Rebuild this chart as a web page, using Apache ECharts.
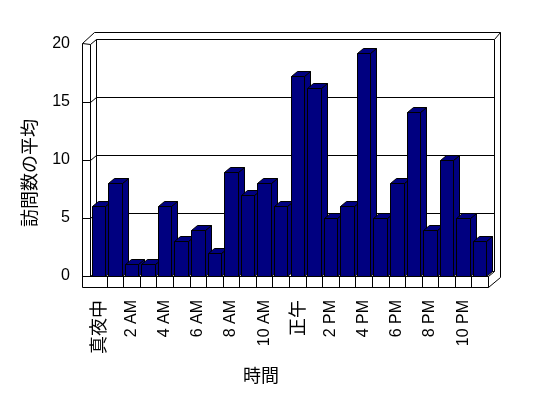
<!DOCTYPE html>
<html>
<head>
<meta charset="utf-8">
<script src="https://cdn.jsdelivr.net/npm/echarts@6/dist/echarts.min.js"></script>
<style>
  html, body { margin: 0; padding: 0; background: #fff; }
  #chart { width: 548px; height: 398px; }
</style>
</head>
<body>
<div id="chart"></div>
<script>
// 時間ごとの訪問数の平均
const hours = ['真夜中', '1 AM', '2 AM', '3 AM', '4 AM', '5 AM', '6 AM', '7 AM', '8 AM', '9 AM', '10 AM', '11 AM',
  '正午', '1 PM', '2 PM', '3 PM', '4 PM', '5 PM', '6 PM', '7 PM', '8 PM', '9 PM', '10 PM', '11 PM'];
const visits = [6, 8, 1, 1, 6, 3, 4, 2, 9, 7, 8, 6, 17.2, 16.2, 5, 6, 19.2, 5, 8, 14.1, 4, 10, 5, 3];
const gridLevels = [5, 10, 15];

const DX = 6, DY = -5;   // 奥行き
const NAVY = '#000080';
const FONT = "'Liberation Sans', 'Noto Sans CJK JP', sans-serif";
const JFONT = "'Noto Sans CJK JP', sans-serif";

const chart = echarts.init(document.getElementById('chart'));

function px(v) {
  return Math.round(v) + 0.5;
}

function seg(a, b) {
  return {
    type: 'line',
    shape: { x1: a[0], y1: a[1], x2: b[0], y2: b[1] },
    style: { stroke: '#000', lineWidth: 1 }
  };
}

// 壁と床
function renderFrame(params, api) {
  const cs = params.coordSys;
  const x0 = px(cs.x), x1 = px(cs.x + cs.width);
  const yT = px(cs.y), yB = px(cs.y + cs.height);
  const band = api.size([1, 0])[0];
  const children = [];

  children.push({
    type: 'polygon',
    shape: { points: [[x0 - 8, yT - 1], [x0 - 8, yB + 11], [x1, yB + 11], [x1 + 12, yB + 1],
      [x1 + 12, yT - 12], [x0 + 4, yT - 12]] },
    style: { fill: '#fff', stroke: '#000', lineWidth: 1 }
  });
  // back wall
  children.push({
    type: 'polygon',
    shape: { points: [[x0 + DX, yT + DY], [x1 + DX, yT + DY], [x1 + DX, yB + DY], [x0 + DX, yB + DY]] },
    style: { fill: 'none', stroke: '#000', lineWidth: 1 }
  });
  children.push(seg([x1 + DX, yT + DY], [x1 + 12, yT - 12]));
  // left wall
  children.push(seg([x0, yT], [x0, yB]));
  children.push(seg([x0 - 8, yT - 1], [x0, yT]));
  children.push(seg([x0, yT], [x0 + DX, yT + DY]));
  children.push(seg([x0, yB], [x0 + DX, yB + DY]));
  // floor
  children.push(seg([x0 - 8, yB], [x1, yB]));
  children.push(seg([x1, yB], [x1 + DX, yB + DY]));
  children.push(seg([x1, yB], [x1, yB + 11]));
  for (let k = 1; k < hours.length; k++) {
    const x = px(cs.x + k * band);
    children.push(seg([x, yB], [x, yB + 11]));
  }
  // grid lines
  gridLevels.forEach(function (v) {
    const y = px(api.coord([0, v])[1]);
    children.push(seg([x0 - 8, y], [x0, y]));
    children.push(seg([x0, y], [x0 + DX, y + DY]));
    children.push(seg([x0 + DX, y + DY], [x1 + DX, y + DY]));
  });

  return { type: 'group', children: children };
}

// 3D 棒
function renderBar(params, api) {
  const i = api.value(0), v = api.value(1);
  const top = api.coord([i, v]);
  const base = api.coord([i, 0]);
  const band = api.size([1, 0])[0];
  const w = band * 0.81;
  const xl = px(top[0] - w / 2), xr = px(top[0] + w / 2);
  const yt = px(top[1]), yb = px(base[1]);
  const style = { fill: NAVY, stroke: '#000', lineWidth: 1 };
  return {
    type: 'group',
    children: [
      { type: 'polygon', shape: { points: [[xr, yt], [xr + DX, yt + DY], [xr + DX, yb + DY], [xr, yb]] }, style: style },
      { type: 'polygon', shape: { points: [[xl, yt], [xl + DX, yt + DY], [xr + DX, yt + DY], [xr, yt]] }, style: style },
      { type: 'polygon', shape: { points: [[xl, yt], [xr, yt], [xr, yb], [xl, yb]] }, style: style }
    ]
  };
}

chart.setOption({
  animation: false,
  backgroundColor: '#fff',
  textStyle: { fontFamily: FONT, color: '#000' },
  grid: { left: 90, right: 60, top: 44, bottom: 122, containLabel: false },
  xAxis: {
    type: 'category',
    data: hours,
    axisLine: { show: false },
    axisTick: { show: false },
    axisLabel: {
      interval: 1,
      rotate: 90,
      margin: 24,
      fontSize: 16,
      color: '#000',
      fontFamily: FONT,
      formatter: function (v) {
        return /[A-Z]/.test(v) ? v : '{j|' + v + '}';
      },
      rich: { j: { fontSize: 18, fontFamily: JFONT, color: '#000' } }
    },
    name: '時間',
    nameLocation: 'middle',
    nameGap: 90,
    nameTextStyle: { fontSize: 18, fontFamily: JFONT, color: '#000', padding: [0, 56, 0, 0] }
  },
  yAxis: {
    type: 'value',
    min: 0,
    max: 20,
    interval: 5,
    axisLine: { show: false },
    axisTick: { show: false },
    splitLine: { show: false },
    axisLabel: { margin: 20, fontSize: 16, color: '#000', fontFamily: FONT },
    name: '訪問数の平均',
    nameLocation: 'middle',
    nameGap: 52,
    nameRotate: 90,
    nameTextStyle: { fontSize: 18, fontFamily: JFONT, color: '#000', padding: [0, 26, 0, 0] }
  },
  series: [
    {
      type: 'custom',
      z: 1,
      silent: true,
      renderItem: renderFrame,
      data: [[0, 0]]
    },
    {
      type: 'custom',
      z: 2,
      renderItem: renderBar,
      encode: { x: 0, y: 1 },
      data: visits.map(function (v, i) { return [i, v]; })
    }
  ]
});
</script>
</body>
</html>
